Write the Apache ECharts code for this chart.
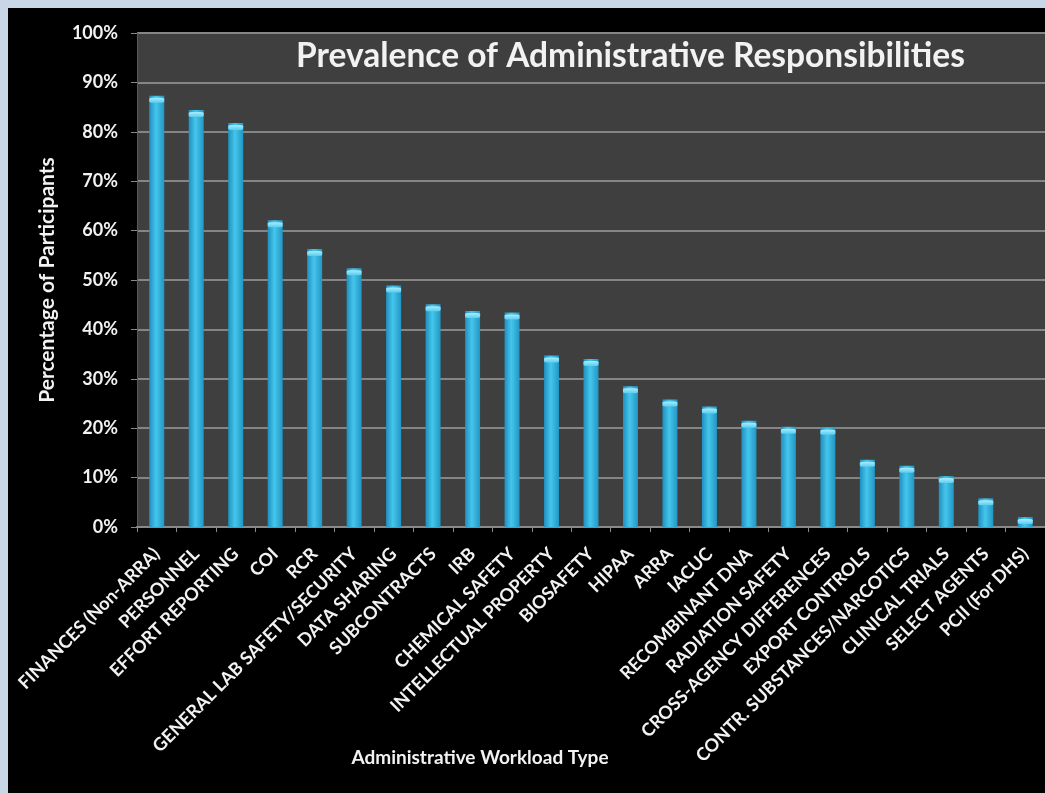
<!DOCTYPE html>
<html>
<head>
<meta charset="utf-8">
<script src="https://cdn.jsdelivr.net/npm/echarts@6/dist/echarts.min.js"></script>
<style>
  html, body { margin: 0; padding: 0; background: #c9d6e6; }
  #frame { position: absolute; left: 8px; top: 8px; width: 1037px; height: 785px; background: #000; }
  #chart { position: absolute; left: -8px; top: -8px; width: 1045px; height: 793px; }
</style>
</head>
<body>
<div id="frame"><div id="chart"></div></div>
<script>
// Workload categories, in the order they are plotted
const categories = [
  'FINANCES (Non-ARRA)', 'PERSONNEL', 'EFFORT REPORTING', 'COI', 'RCR',
  'GENERAL LAB SAFETY/SECURITY', 'DATA SHARING', 'SUBCONTRACTS', 'IRB',
  'CHEMICAL SAFETY', 'INTELLECTUAL PROPERTY', 'BIOSAFETY', 'HIPAA', 'ARRA',
  'IACUC', 'RECOMBINANT DNA', 'RADIATION SAFETY', 'CROSS-AGENCY DIFFERENCES',
  'EXPORT CONTROLS', 'CONTR. SUBSTANCES/NARCOTICS', 'CLINICAL TRIALS',
  'SELECT AGENTS', 'PCII (For DHS)'
];

// Share of participants reporting each responsibility (%)
const percentValues = [
  87.3, 84.4, 81.8, 62.1, 56.3, 52.4, 48.9, 45.1, 43.7,
  43.4, 34.7, 34.0, 28.5, 25.8, 24.4, 21.5, 20.3, 20.1,
  13.6, 12.4, 10.3, 5.8, 2.0
];

// Value axis ticks
const yTicks = [0, 10, 20, 30, 40, 50, 60, 70, 80, 90, 100];

const chartTitle = 'Prevalence of Administrative Responsibilities';
const yAxisTitle = 'Percentage of Participants';
const xAxisTitle = 'Administrative Workload Type';

const FONT = 'Lato, "Open Sans", sans-serif';
const TEXT = '#f2f2f2';

const chart = echarts.init(document.getElementById('chart'), null, { renderer: 'canvas' });

const barFill = new echarts.graphic.LinearGradient(0, 0, 1, 0, [
  { offset: 0, color: '#1f8fbf' },
  { offset: 0.45, color: '#45c6ec' },
  { offset: 1, color: '#2296c4' }
]);
const capFill = new echarts.graphic.LinearGradient(0, 0, 0, 1, [
  { offset: 0, color: '#a8ecfb' },
  { offset: 1, color: '#58cdee' }
]);

chart.setOption({
  backgroundColor: 'transparent',
  animation: false,
  title: {
    text: chartTitle,
    left: 291,
    top: 34,
    textStyle: { color: TEXT, fontFamily: FONT, fontSize: 33.5, fontWeight: 'bold' }
  },
  // x-axis title sits under the label block, left of the plot centre
  graphic: [{
    type: 'text',
    x: 480,
    y: 758,
    style: {
      text: xAxisTitle,
      fill: TEXT,
      font: 'bold 19px ' + FONT,
      align: 'center',
      verticalAlign: 'middle'
    }
  }],
  grid: {
    left: 137, right: 0, top: 33, bottom: 266,
    show: true,
    backgroundColor: '#3f3f3f',
    borderWidth: 0
  },
  xAxis: {
    type: 'category',
    data: categories,
    axisLine: { show: true, lineStyle: { color: '#8a8a8a', width: 2 } },
    axisTick: { show: true, alignWithLabel: false, length: 5, lineStyle: { color: '#8a8a8a', width: 1 } },
    axisLabel: {
      interval: 0,
      rotate: 45,
      margin: 24,
      color: TEXT,
      fontFamily: FONT,
      fontSize: 18,
      fontWeight: 'bold'
    }
  },
  yAxis: {
    type: 'value',
    min: 0,
    max: 100,
    interval: 10,
    name: yAxisTitle,
    nameLocation: 'middle',
    nameGap: 79,
    nameTextStyle: { color: TEXT, fontFamily: FONT, fontSize: 21, fontWeight: 'bold' },
    axisLine: { show: true, lineStyle: { color: '#5a5a5a', width: 1 } },
    axisTick: { show: true, length: 6, lineStyle: { color: '#8a8a8a', width: 1 } },
    axisLabel: {
      margin: 19,
      color: TEXT,
      fontFamily: FONT,
      fontSize: 18,
      fontWeight: 'bold',
      formatter: v => (yTicks.includes(v) ? v + '%' : '')
    },
    splitLine: { show: true, lineStyle: { color: '#858585', width: 2 } }
  },
  series: [
    {
      type: 'bar',
      data: percentValues,
      barWidth: 15,
      barGap: '-100%',
      itemStyle: { color: barFill },
      z: 2
    },
    {
      // lighter rim at the top of each bar
      type: 'pictorialBar',
      data: percentValues,
      symbol: 'roundRect',
      symbolSize: [15, 5],
      symbolPosition: 'end',
      symbolOffset: [0, '40%'],
      barGap: '-100%',
      itemStyle: { color: capFill },
      z: 3
    }
  ]
});
</script>
</body>
</html>
